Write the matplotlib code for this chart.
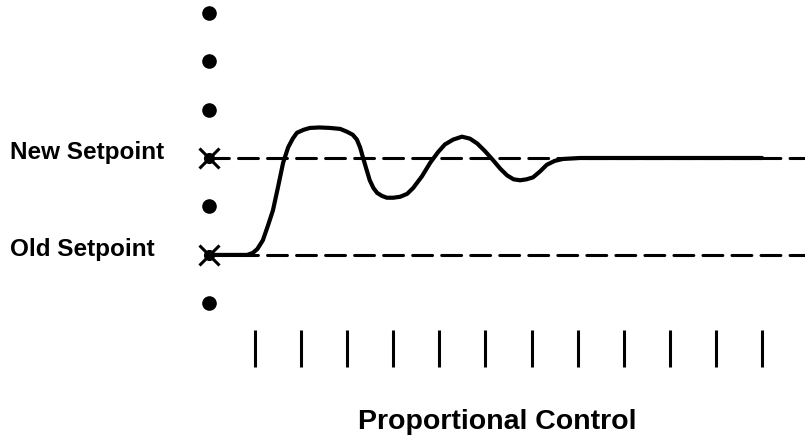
import numpy as np
import matplotlib
matplotlib.use("Agg")
from matplotlib import pyplot as plt

# Process variable response (time in tick units, level: 0 = old setpoint, 1 = new setpoint)
t = [0.0, 0.5, 0.83, 0.95, 1.05, 1.17, 1.28, 1.39, 1.5, 1.61, 1.72, 1.82, 1.91, 2.05,
     2.19, 2.4, 2.63, 2.85, 3.0, 3.12, 3.21, 3.28, 3.34, 3.42, 3.49, 3.57, 3.65, 3.75,
     3.86, 4.0, 4.15, 4.3, 4.43, 4.62, 4.8, 4.97, 5.12, 5.3, 5.49, 5.66, 5.82, 5.99,
     6.16, 6.32, 6.47, 6.61, 6.75, 6.89, 7.03, 7.18, 7.33, 7.5, 7.68, 8.05, 12.0]
level = [0.0, 0.0, 0.0, 0.02, 0.06, 0.15, 0.3, 0.46, 0.7, 0.95, 1.11, 1.2, 1.26, 1.29,
         1.31, 1.315, 1.31, 1.3, 1.27, 1.24, 1.19, 1.11, 1.01, 0.88, 0.77, 0.69, 0.64, 0.61,
         0.59, 0.59, 0.6, 0.63, 0.69, 0.81, 0.95, 1.06, 1.14, 1.19, 1.22, 1.2, 1.15, 1.07,
         0.98, 0.89, 0.82, 0.78, 0.77, 0.78, 0.8, 0.86, 0.93, 0.97, 0.99, 1.0, 1.0]

old_setpoint = 0.0
new_setpoint = 1.0
setpoint_labels = ["New Setpoint", "Old Setpoint"]
dot_levels = [2.5, 2.0, 1.5, 0.5, -0.5]
ticks = list(range(1, 13))
title = "Proportional Control"

fig = plt.figure(figsize=(8.05, 4.42), dpi=100)
ax = fig.add_axes([0, 0, 1, 1])
ax.set_xlim(-4.53, 12.93)
ax.set_ylim(-1.93, 2.63)
ax.axis("off")

# setpoint dashed lines
for sp in [new_setpoint, old_setpoint]:
    ax.plot([0, 12.93], [sp, sp], color="black", lw=2.2, dashes=(6.5, 3),
            solid_capstyle="round", dash_capstyle="round")

# response curve
ax.plot(t, level, color="black", lw=3.0, solid_joinstyle="round", solid_capstyle="round")

# vertical axis: dots and X marks at setpoints
ax.plot([0] * len(dot_levels), dot_levels, "o", color="black", ms=9.5)
ax.plot([0, 0], [new_setpoint, old_setpoint], "x", color="black", ms=15, mew=2.2)
ax.plot([0, 0], [new_setpoint, old_setpoint], "o", color="black", ms=7)

# time ticks
ax.vlines(ticks, -0.77, -1.16, color="black", lw=2.2)

font = ["Liberation Sans", "DejaVu Sans"]
ax.text(-4.31, new_setpoint + 0.06, setpoint_labels[0], fontsize=17.5, fontweight="bold",
        family=font, ha="left", va="center")
ax.text(-4.31, old_setpoint + 0.06, setpoint_labels[1], fontsize=17.5, fontweight="bold",
        family=font, ha="left", va="center")
ax.text(6.25, -1.72, title, fontsize=20.5, fontweight="bold", family=font,
        ha="center", va="center")

fig.savefig("out.png", dpi=100)
